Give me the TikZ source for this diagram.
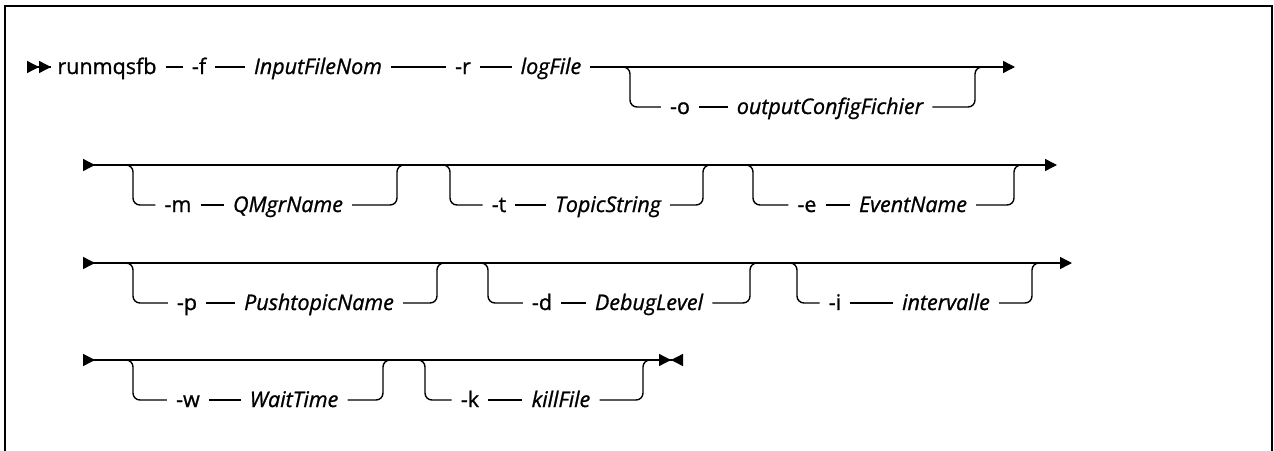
\documentclass[tikz,border=0pt]{standalone}
\usepackage{fontspec}
\setmainfont{Open Sans}[FakeBold=1]
\usetikzlibrary{arrows.meta,positioning}

\begin{document}
\begin{tikzpicture}[x=1pt, y=-1pt,
    rail/.style={line width=1.4pt},
    gap/.style={shorten <=9pt, shorten >=9pt},
    kw/.style={font=\fontsize{21.5}{24}\selectfont, inner sep=0pt, text height=14pt, text depth=0pt},
    arg/.style={kw, font=\fontsize{21.5}{24}\selectfont\itshape},
    tri/.tip={Triangle[length=12pt, width=12pt]},
    rtri/.tip={Triangle[length=12pt, width=12pt, reversed]}
]
    \useasboundingbox (0,0) rectangle (1274,450);

    % frame
    \draw[line width=2.6pt] (5,460) -- (5,6) -- (1272,6) -- (1272,460);

    % row 1
    \coordinate (s1) at (27,67);
    \node[kw] (cmd) at (107,67) {runmqsfb};
    \node[kw] (f) at (199,67) {-f};
    \node[arg] (inp) at (318,67) {InputFileNom};
    \node[kw] (r) at (463,67) {-r};
    \node[arg] (log) at (551,67) {logFile};
    \coordinate (e1) at (1015,67);
    \node[kw] (o) at (680,107) {-o};
    \node[arg] (ocf) at (830,107) {outputConfigFichier};

    \draw[rail, {rtri[]rtri[]}-, shorten >=6pt] (s1) -- (cmd.west);
    \foreach \a/\b in {cmd/f, f/inp, inp/r, r/log} {
        \draw[rail, gap] (\a.east) -- (\b.west);
    }
    \draw[rail, -{tri[]}, shorten <=9pt] (log.east) -- (e1);

    % rows 2 to 4
    \coordinate (s2) at (83,165);
    \coordinate (e2) at (1057,165);
    \coordinate (s3) at (83,263);
    \coordinate (e3) at (1072,263);
    \coordinate (s4) at (83,360);
    \coordinate (e4) at (683,360);

    \node[kw] (m) at (178,205) {-m};
    \node[arg] (qm) at (288,205) {QMgrName};
    \node[kw] (t) at (499,205) {-t};
    \node[arg] (ts) at (608,205) {TopicString};
    \node[kw] (e) at (807,205) {-e};
    \node[arg] (ev) at (913,205) {EventName};

    \node[kw] (p) at (187,303) {-p};
    \node[arg] (pt) at (319,303) {PushtopicName};
    \node[kw] (d) at (542,303) {-d};
    \node[arg] (dl) at (649,303) {DebugLevel};
    \node[kw] (i) at (835,303) {-i};
    \node[arg] (iv) at (946,303) {intervalle};

    \node[kw] (w) at (188,400) {-w};
    \node[arg] (wt) at (294,400) {WaitTime};
    \node[kw] (k) at (470,400) {-k};
    \node[arg] (kf) at (561,400) {killFile};

    \draw[rail, {rtri[]}-{tri[]}] (s2) -- (e2);
    \draw[rail, {rtri[]}-{tri[]}] (s3) -- (e3);
    \draw[rail, {rtri[]}-{tri[]rtri[]}] (s4) -- (e4);

    % optional branches
    \foreach \k/\v/\L/\R/\y in {o/ocf/630/975/67, m/qm/133/397/165, t/ts/450/703/165,
        e/ev/753/1014/165, p/pt/133/437/263, d/dl/488/750/263, i/iv/797/1032/263,
        w/wt/133/383/360, k/kf/425/643/360} {
        \coordinate (\k-in) at (\L,\y);
        \coordinate (\k-out) at (\R,\y);
        \draw[rail, rounded corners=7pt, shorten >=9pt] ([xshift=-10pt]\k-in) -- (\k-in) |- (\k.west);
        \draw[rail, gap] (\k.east) -- (\v.west);
        \draw[rail, rounded corners=7pt, shorten <=9pt] (\v.east) -| (\k-out) -- ([xshift=10pt]\k-out);
    }
\end{tikzpicture}
\end{document}
